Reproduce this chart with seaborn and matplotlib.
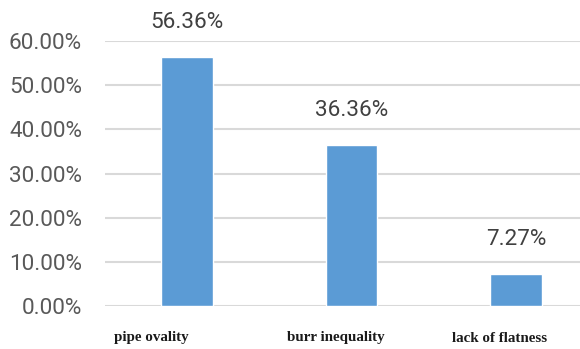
import matplotlib
matplotlib.use("Agg")
import matplotlib.pyplot as plt
import matplotlib.transforms as mtransforms
import seaborn as sns
import pandas as pd
from matplotlib.ticker import FuncFormatter, FixedLocator

categories = ["pipe ovality", "burr inequality", "lack of flatness"]
values = [56.36, 36.36, 7.27]
value_labels = ["56.36%", "36.36%", "7.27%"]
y_ticks = [0, 10, 20, 30, 40, 50, 60]

df = pd.DataFrame({"category": categories, "value": values})

sns.set_theme(style="white")
plt.rcParams["font.family"] = ["Roboto", "DejaVu Sans"]

W, H = 580, 349
fig = plt.figure(figsize=(W / 100, H / 100), dpi=100)
left, right = 105, 598
bottom_px, top_px = 306, 41
ax = fig.add_axes([left / W, (H - bottom_px) / H, (right - left) / W, (bottom_px - top_px) / H])

sns.barplot(data=df, x="category", y="value", color="#5B9BD5", width=0.316,
            saturation=1, ax=ax, zorder=3)

ax.set_xlim(-0.5, 2.5)
ax.set_ylim(0, 60)
ax.yaxis.set_major_locator(FixedLocator(y_ticks))
ax.yaxis.set_major_formatter(FuncFormatter(lambda v, p: f"{v:.2f}%"))
ax.grid(axis="y", color="#d9d9d9", linewidth=1.5, zorder=0)
ax.grid(axis="x", visible=False)
for s in ax.spines.values():
    s.set_visible(False)
ax.tick_params(axis="y", length=0, pad=16.5, labelsize=16.2, labelcolor="#595959")
ax.tick_params(axis="x", length=0, labelbottom=False)
ax.set_xlabel("")
ax.set_ylabel("")

# value labels above bars
for i, (v, t) in enumerate(zip(values, value_labels)):
    ax.annotate(t, (i, v), xytext=(0, 25), textcoords="offset points",
                ha="center", va="center", fontsize=16.2, color="#404040",
                annotation_clip=False)

# category labels (bold serif), slightly shifted as in the reference
x_offsets_px = [-36, -16, -16]
for i, (c, dx) in enumerate(zip(categories, x_offsets_px)):
    tr = ax.get_xaxis_transform() + mtransforms.ScaledTranslation(dx / 100, -32 / 100, fig.dpi_scale_trans)
    ax.text(i, 0, c, transform=tr, ha="center", va="center", fontsize=10.8,
            fontweight="bold", family="Liberation Serif", color="#1a1a1a", clip_on=False)

fig.savefig("out.png", dpi=100)
